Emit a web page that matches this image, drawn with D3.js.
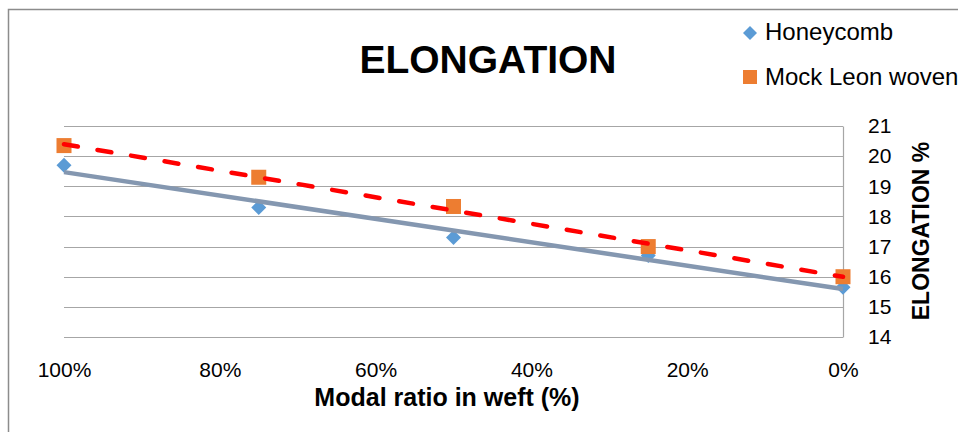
<!DOCTYPE html>
<html><head><meta charset="utf-8">
<script src="https://cdn.jsdelivr.net/npm/d3@7"></script>
<style>html,body{margin:0;padding:0;background:#fff;overflow:hidden}svg{display:block}</style>
</head><body>
<svg id="c" width="958" height="432"></svg>
<script>
const ratios = [100, 75, 50, 25, 0];
const honeycomb = [19.7, 18.3, 17.3, 16.7, 15.65];
const mockLeon = [20.35, 19.3, 18.33, 17.0, 16.0];
const xTicks = [100, 80, 60, 40, 20, 0];
const yTicks = [14, 15, 16, 17, 18, 19, 20, 21];
const seriesNames = ["Honeycomb", "Mock Leon woven"];
const chartTitle = "ELONGATION";
const xTitle = "Modal ratio in weft (%)";
const yTitle = "ELONGATION %";

const svg = d3.select("#c");
const font = "'Liberation Sans', Arial, sans-serif";
svg.append("rect").attr("width",958).attr("height",432).attr("fill","#fff");
// outer chart border
svg.append("path").attr("d","M8.5,440 V9.5 H970").attr("fill","none").attr("stroke","#8c8c8c").attr("stroke-width",1.5);

const x = d3.scaleLinear().domain([100, 0]).range([64, 843]);
const y = d3.scaleLinear().domain([14, 21]).range([337, 126]);

// gridlines
svg.append("g").selectAll("line").data(yTicks).join("line")
  .attr("x1", x(100)).attr("x2", x(0))
  .attr("y1", d => Math.round(y(d)) + 0.5).attr("y2", d => Math.round(y(d)) + 0.5)
  .attr("stroke", "#a6a6a6").attr("stroke-width", 1.2);

// right axis
const yAxis = d3.axisRight(y).tickValues(yTicks).tickSize(0).tickPadding(25).tickFormat(d3.format("d"));
const ga = svg.append("g").attr("transform", `translate(${x(0)},0)`).call(yAxis);
ga.select(".domain").attr("stroke", "#a6a6a6").attr("stroke-width", 1.2);
ga.selectAll("text").attr("font-family", font).attr("font-size", 21).attr("fill", "#000");

// x axis labels
const xAxis = d3.axisBottom(x).tickValues(xTicks).tickSize(0).tickPadding(0).tickFormat(d => d + "%");
const gx = svg.append("g").attr("transform", `translate(0,362)`).call(xAxis);
gx.select(".domain").remove();
gx.selectAll("text").attr("font-family", font).attr("font-size", 21).attr("fill", "#000");

// markers
svg.append("g").selectAll("path").data(ratios.map((r,i)=>[r, honeycomb[i]])).join("path")
  .attr("d", d => { const cx = x(d[0]), cy = y(d[1]), s = 7.5; return `M${cx},${cy-s}L${cx+s},${cy}L${cx},${cy+s}L${cx-s},${cy}Z`; })
  .attr("fill", "#5b9bd5");
svg.append("g").selectAll("rect").data(ratios.map((r,i)=>[r, mockLeon[i]])).join("rect")
  .attr("x", d => x(d[0]) - 7.5).attr("y", d => y(d[1]) - 7.5)
  .attr("width", 15).attr("height", 15).attr("fill", "#ed7d31");

// linear trend lines
function fit(xs, ys) {
  const mx = d3.mean(xs), my = d3.mean(ys);
  const b = d3.sum(xs.map((v,i)=>(v-mx)*(ys[i]-my))) / d3.sum(xs.map(v=>(v-mx)*(v-mx)));
  const a = my - b*mx;
  return [[100, a + b*100], [0, a]];
}
const line = d3.line().x(d => x(d[0])).y(d => y(d[1]));
svg.append("path").datum(fit(ratios, honeycomb)).attr("d", line)
  .attr("fill","none").attr("stroke","#8497b0").attr("stroke-width",4.5);
svg.append("path").datum(fit(ratios, mockLeon)).attr("d", line)
  .attr("fill","none").attr("stroke","#ff0000").attr("stroke-width",4.5)
  .attr("stroke-dasharray","14,20").attr("stroke-linecap","round");

// title
svg.append("text").attr("x", 488).attr("y", 73).attr("text-anchor","middle")
  .attr("font-family", font).attr("font-weight","bold").attr("font-size",39).text(chartTitle);
// x title
svg.append("text").attr("x", 447).attr("y", 406).attr("text-anchor","middle")
  .attr("font-family", font).attr("font-weight","bold").attr("font-size",25).text(xTitle);
// y title
svg.append("text").attr("transform","translate(929,231) rotate(-90)").attr("text-anchor","middle")
  .attr("font-family", font).attr("font-weight","bold").attr("font-size",23).text(yTitle);

// legend
const lg = svg.append("g");
lg.append("path").attr("d","M750,26L757,33L750,40L743,33Z").attr("fill","#5b9bd5");
lg.append("rect").attr("x",743).attr("y",70).attr("width",14).attr("height",14).attr("fill","#ed7d31");
lg.append("text").attr("x",765).attr("y",40).attr("font-family",font).attr("font-size",24).text(seriesNames[0]);
lg.append("text").attr("x",765).attr("y",85).attr("font-family",font).attr("font-size",24).text(seriesNames[1]);
</script>
</body></html>
